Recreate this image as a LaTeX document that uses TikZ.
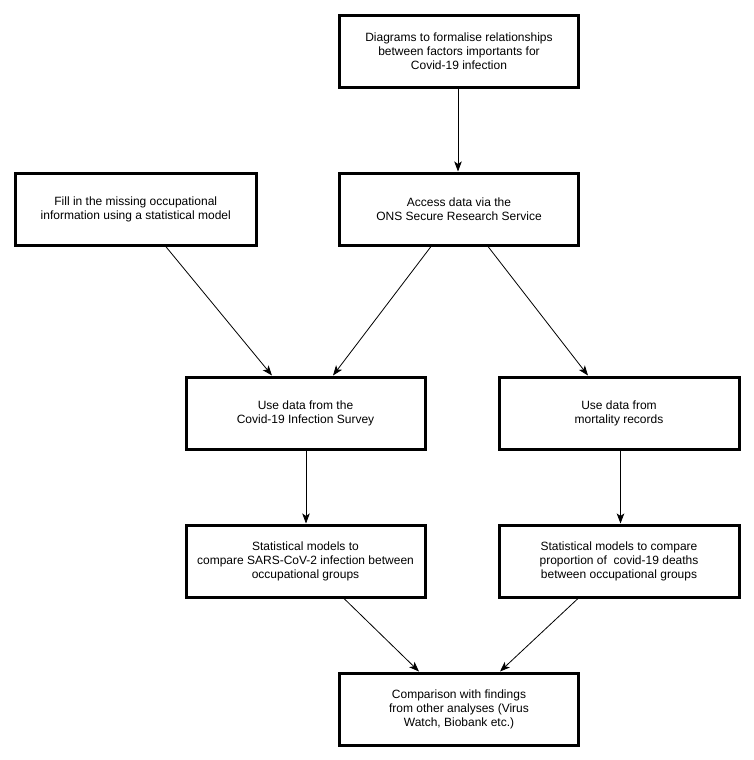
\documentclass[tikz,border=0pt]{standalone}
\usepackage{fontspec}
\setmainfont{Liberation Sans}
\usetikzlibrary{arrows.meta}
\begin{document}
\begin{tikzpicture}[x=1pt,y=-1pt,
  box/.style={draw, line width=3pt, minimum width=239pt, minimum height=72pt,
    align=center, inner sep=0pt, font=\fontsize{12}{14}\selectfont},
  arr/.style={line width=0.8pt, -{Stealth[length=10pt,width=7.5pt,inset=2.5pt]}}]
\useasboundingbox[fill=white] (0,0) rectangle (754,760);
\node[box, minimum height=71pt] (top) at (459,51.5) {Diagrams to formalise relationships\\between factors importants for\\Covid-19 infection};
\node[box] (access) at (459,209) {Access data via the\\ONS Secure Research Service};
\node[box, minimum width=240.5pt] (fill) at (135.75,209) {Fill in the missing occupational\\information using a statistical model};
\node[box] (covid) at (305.5,413) {Use data from the\\Covid-19 Infection Survey};
\node[box, minimum width=240pt] (mort) at (619,413) {Use data from\\mortality records};
\node[box] (statl) at (305.5,561) {Statistical models to\\compare SARS-CoV-2 infection between\\occupational groups};
\node[box, minimum width=240pt] (statr) at (619,561) {Statistical models to compare\\proportion of \ covid-19 deaths\\between occupational groups};
\node[box] (comp) at (459,709) {Comparison with findings\\from other analyses (Virus\\Watch, Biobank etc.)};
\draw[arr] ([xshift=-1pt]top.south) -- ([xshift=-1pt]access.north);
\draw[arr] ([xshift=30pt]fill.south) -- ([xshift=-33.5pt]covid.north);
\draw[arr] ([xshift=-28pt]access.south) -- ([xshift=27.5pt]covid.north);
\draw[arr] ([xshift=29pt]access.south) -- ([xshift=-31pt]mort.north);
\draw[arr] ([xshift=0.5pt]covid.south) -- ([xshift=0.5pt]statl.north);
\draw[arr] ([xshift=1.5pt]mort.south) -- ([xshift=1.5pt]statr.north);
\draw[arr] ([xshift=38.5pt]statl.south) -- ([xshift=-40pt]comp.north);
\draw[arr] ([xshift=-41pt]statr.south) -- ([xshift=41pt]comp.north);
\end{tikzpicture}
\end{document}
